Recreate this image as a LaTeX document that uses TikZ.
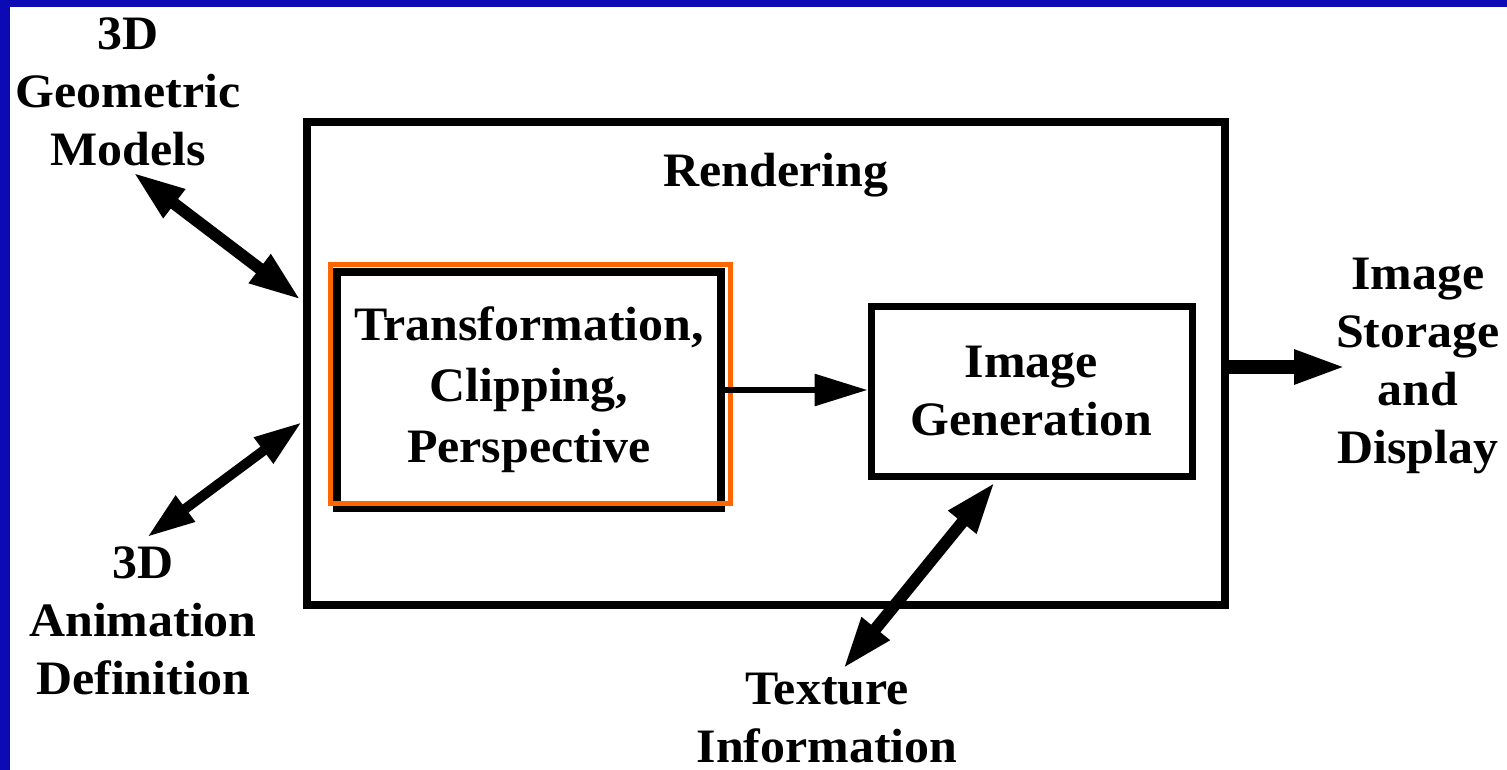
\documentclass[tikz,border=0pt]{standalone}
\usepackage{fontspec}
\setmainfont{Liberation Serif}[FakeStretch=1.04]
\usetikzlibrary{arrows.meta}
\definecolor{slideblue}{RGB}{12,10,180}
\definecolor{hlorange}{RGB}{255,102,0}
\begin{document}
\begin{tikzpicture}[x=1pt,y=-1pt,
  lbl/.style={inner sep=0pt, align=center, font=\fontsize{48}{58}\selectfont\bfseries},
  blk/.style={draw=black, line width=8pt, inner sep=0pt, align=center, font=\fontsize{48}{58}\selectfont\bfseries},
  dbl/.style={line width=12pt, {Triangle[length=52pt,width=33pt]}-{Triangle[length=52pt,width=33pt]}},
  sgl/.style={line width=#1, -{Triangle[length=53pt,width=31pt]}}
]
\useasboundingbox (0,0) rectangle (1507,770);
\fill[white] (0,0) rectangle (1507,770);
\fill[slideblue] (0,0) rectangle (1507,7);
\fill[slideblue] (0,0) rectangle (10,770);

% outer rendering box
\node[draw=black, line width=8pt, inner sep=0pt, minimum width=918pt, minimum height=483pt] (outer) at (766,363.5) {};
\node[lbl] (rend) at (776,175.5) {Rendering};

% inner boxes
\node[blk, minimum width=384pt, minimum height=236pt, font=\fontsize{48}{61}\selectfont\bfseries] (tcp) at (529,390) {Transformation,\\Clipping,\\Perspective};
\node[draw=hlorange, line width=5pt, inner sep=0pt, minimum width=400pt, minimum height=239pt] (hl) at (530,383.5) {};
\node[blk, line width=7pt, minimum width=321pt, minimum height=170pt] (gen) at (1031.5,391) {Image\\Generation};

% outside labels
\node[lbl] (geo) at (128,92) {3D\\Geometric\\Models};
\node[lbl] (anim) at (143,620.5) {3D\\Animation\\Definition};
\node[lbl] (store) at (1418,365.5) {Image\\Storage\\and\\Display};
\node[lbl] (tex) at (827,718) {Texture\\Information};

% connectors
\draw[dbl] ([shift={(5,6)}]geo.south) -- ([shift={(-2,-63.5)}]outer.west);
\draw[dbl, line width=10pt, {Triangle[length=48pt,width=30pt]}-{Triangle[length=48pt,width=30pt]}] ([shift={(4,-9)}]anim.north) -- ([shift={(-1,58.5)}]outer.west);
\draw[dbl] ([shift={(16,-4)}]tex.north) -- ([shift={(-36.5,2.5)}]gen.south);
\draw[sgl=6pt] (tcp.east) -- (tcp.east -| gen.west);
\draw[sgl=14pt] ([shift={(0,3.5)}]outer.east) -- ([shift={(11,1.5)}]store.west);
\end{tikzpicture}
\end{document}
